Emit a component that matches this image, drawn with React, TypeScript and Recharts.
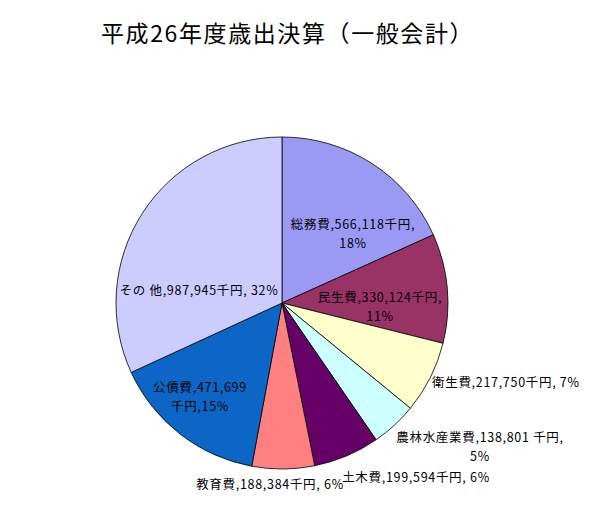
import { Cell, Pie, PieChart } from 'recharts';

const categories = ['総務費', '民生費', '衛生費', '農林水産業費', '土木費', '教育費', '公債費', 'その 他'];
const amounts = [566118, 330124, 217750, 138801, 199594, 188384, 471699, 987945];
const percents = [18, 11, 7, 5, 6, 6, 15, 32];
const colors = ['#9a9af4', '#993366', '#ffffcc', '#ccffff', '#660066', '#ff8080', '#0b66c6', '#ccccff'];

// where each label sits, relative to the pie centre; split = which line break style
const labelPlace = [
  { dx: 71, dy: -78, anchor: 'middle', split: 'pct' },
  { dx: 98, dy: -5, anchor: 'middle', split: 'pct' },
  { dx: 150, dy: 80, anchor: 'start', split: 'none' },
  { dx: 198, dy: 135, anchor: 'middle', split: 'pct' },
  { dx: 134, dy: 175, anchor: 'middle', split: 'none' },
  { dx: -12, dy: 182, anchor: 'middle', split: 'none' },
  { dx: -82, dy: 85, anchor: 'middle', split: 'unit' },
  { dx: -83, dy: -12, anchor: 'middle', split: 'none' },
];

const data = categories.map((name, i) => ({ name, value: amounts[i], pct: percents[i] }));

const FONT = '"Noto Sans CJK JP", "Noto Sans", sans-serif';

function renderLabel(props: any) {
  const { cx, cy, index } = props;
  const d = data[index];
  const p = labelPlace[index];
  const num = d.value.toLocaleString('en-US');
  const unit = index === 3 ? ' 千円' : '千円';
  let lines: string[];
  if (p.split === 'pct') lines = [`${d.name},${num}${unit},`, `${d.pct}%`];
  else if (p.split === 'unit') lines = [`${d.name},${num}`, `${unit},${d.pct}%`];
  else lines = [`${d.name},${num}${unit}, ${d.pct}%`];
  return (
    <text
      key={`lbl-${index}`}
      x={cx + p.dx}
      y={cy + p.dy}
      textAnchor={p.anchor as any}
      fill="#000"
      fontSize={12.5}
      letterSpacing={0.7}
      fontFamily={FONT}
    >
      {lines.map((t, k) => (
        <tspan key={k} x={cx + p.dx} dy={k === 0 ? 4 : 19}>
          {t}
        </tspan>
      ))}
    </text>
  );
}

export default function App() {
  return (
    <div style={{ position: 'absolute', left: 0, top: 0, width: 600, height: 519, background: '#fff' }}>
      <div
        style={{
          position: 'absolute',
          left: 101,
          top: 16,
          fontFamily: FONT,
          fontSize: 23,
          letterSpacing: 1.6,
          color: '#000',
          whiteSpace: 'nowrap',
          lineHeight: '32px',
        }}
      >
        平成26年度歳出決算（一般会計）
      </div>
      <PieChart width={600} height={519} margin={{ top: 0, right: 0, bottom: 0, left: 0 }}>
        <Pie
          data={data}
          dataKey="value"
          nameKey="name"
          cx={282}
          cy={303}
          outerRadius={166}
          startAngle={90}
          endAngle={-270}
          stroke="#000"
          strokeWidth={0.8}
          label={renderLabel}
          labelLine={false}
          isAnimationActive={false}
        >
          {data.map((d, i) => (
            <Cell key={d.name} fill={colors[i]} />
          ))}
        </Pie>
      </PieChart>
    </div>
  );
}
